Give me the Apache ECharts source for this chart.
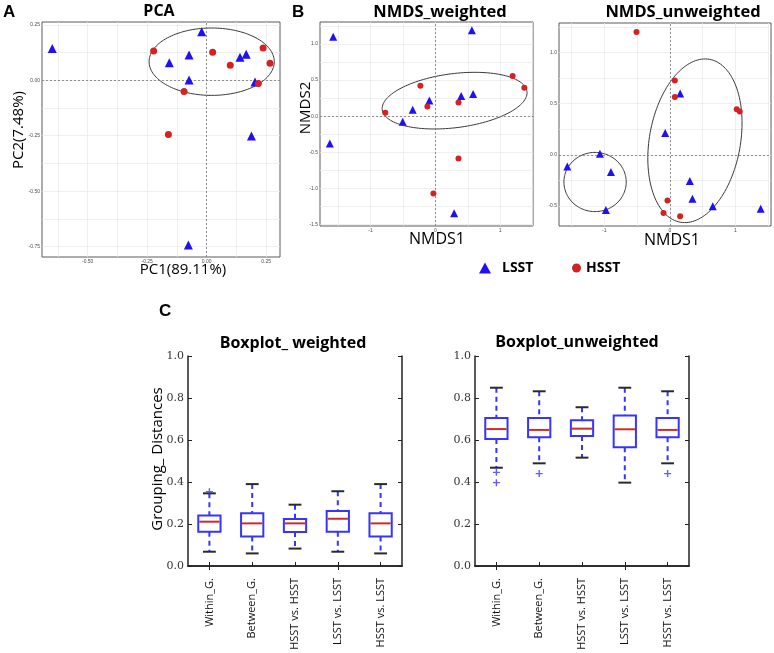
<!DOCTYPE html>
<html><head><meta charset="utf-8">
<script src="https://cdn.jsdelivr.net/npm/echarts@6/dist/echarts.min.js"></script>
<style>html,body{margin:0;padding:0;background:#fff}#c{width:774px;height:653px}</style>
</head><body><div id="c"></div>
<script>
// ---------- Panel A: PCA ----------
const pcaLSST = [[-0.649,0.144],[-0.021,0.219],[-0.074,0.114],[-0.157,0.079],[-0.074,0.001],[0.140,0.104],[0.166,0.117],[0.203,-0.008],[0.188,-0.251],[-0.077,-0.743]];
const pcaHSST = [[-0.223,0.132],[0.025,0.127],[0.099,0.068],[0.237,0.146],[0.266,0.077],[0.217,-0.014],[-0.095,-0.051],[-0.161,-0.245]];
const pcaEllipses = [[0.021,0.084,0.263,0,0,0.152]];
const pcaXTicks = [-0.5,-0.25,0,0.25];
const pcaYTicks = [-0.75,-0.5,-0.25,0,0.25];
const pcaXGridLines = [-0.625,-0.5,-0.375,-0.25,-0.125,0,0.125,0.25];
const pcaYGridLines = [-0.75,-0.625,-0.5,-0.375,-0.25,-0.125,0,0.125,0.25];

// ---------- Panel B: NMDS weighted ----------
const nmdsWLSST = [[-1.577,1.102],[0.562,1.190],[-1.629,-0.380],[-0.093,0.218],[0.397,0.278],[0.582,0.306],[-0.351,0.088],[-0.505,-0.079],[0.289,-1.347]];
const nmdsWHSST = [[-0.232,0.421],[1.191,0.556],[1.371,0.394],[-0.124,0.134],[0.356,0.190],[-0.773,0.046],[0.356,-0.588],[-0.031,-1.074]];
const nmdsWEllipses = [[0.296,0.215,1.116,0.127,0.053,-0.372]];
const nmdsWXTicks = [-1,0,1];
const nmdsWYTicks = [-1.5,-1,-0.5,0,0.5,1];
const nmdsWXGridLines = [-1.5,-1,-0.5,0,0.5,1,1.5];
const nmdsWYGridLines = [-1.5,-1.25,-1,-0.75,-0.5,-0.25,0,0.25,0.5,0.75,1,1.25];

// ---------- Panel B: NMDS unweighted ----------
const nmdsULSST = [[0.157,0.600],[-0.071,0.212],[0.305,-0.258],[0.345,-0.430],[0.655,-0.505],[1.386,-0.528],[-1.563,-0.114],[-1.066,0.010],[-0.898,-0.170],[-0.975,-0.541]];
const nmdsUHSST = [[-0.508,1.203],[0.076,0.727],[0.076,0.567],[1.020,0.447],[1.066,0.424],[-0.036,-0.447],[-0.096,-0.571],[0.157,-0.603]];
const nmdsUEllipses = [[0.383,0.137,0.223,0.798,0.683,-0.079],[-1.140,-0.267,0.475,0,0,0.290]];
const nmdsUXTicks = [-1,0,1];
const nmdsUYTicks = [-0.5,0,0.5,1];
const nmdsUXGridLines = [-1.5,-1,-0.5,0,0.5,1,1.5];
const nmdsUYGridLines = [-0.5,-0.25,0,0.25,0.5,0.75,1,1.25];

// ---------- Panel C: boxplots ----------
const boxCategories = ['Within_G.','Between_G.','HSST vs. HSST','LSST vs. LSST','HSST vs. LSST'];
// [min, Q1, median, Q3, max]
const boxWeighted = [[0.068,0.163,0.211,0.240,0.346],[0.060,0.141,0.203,0.251,0.390],[0.083,0.162,0.203,0.224,0.292],[0.068,0.163,0.225,0.262,0.356],[0.060,0.141,0.203,0.251,0.390]];
const outWeighted = [[0,0.354]];
const boxUnweighted = [[0.468,0.605,0.652,0.705,0.849],[0.489,0.613,0.648,0.705,0.832],[0.516,0.619,0.654,0.694,0.756],[0.397,0.565,0.651,0.717,0.849],[0.489,0.613,0.648,0.705,0.832]];
const outUnweighted = [[0,0.446],[0,0.397],[1,0.440],[4,0.440]];
const boxYTicks = [0,0.2,0.4,0.6,0.8,1.0];

const BLUE = '#1f10f5', RED = '#d42222';
const chart = echarts.init(document.getElementById('c'), null, {renderer:'canvas'});

function ellipseItem(params, api) {
  const cx = api.value(0), cy = api.value(1), ux = api.value(2), uy = api.value(3), vx = api.value(4), vy = api.value(5);
  const pts = [];
  for (let i = 0; i <= 144; i++) {
    const t = i / 144 * 2 * Math.PI;
    pts.push(api.coord([cx + ux*Math.cos(t) + vx*Math.sin(t), cy + uy*Math.cos(t) + vy*Math.sin(t)]));
  }
  return {type:'polyline', shape:{points:pts}, style:{stroke:'#3a3a3a', fill:null, lineWidth:1}, silent:true};
}
function boxItem(params, api) {
  const i = api.value(0);
  const band = api.size([1,0])[0];
  const hw = band*0.26, cw = band*0.15;
  const x = api.coord([i, api.value(1)])[0];
  const y = k => api.coord([i, api.value(k)])[1];
  const yMin=y(1), yQ1=y(2), yMed=y(3), yQ3=y(4), yMax=y(5);
  const wh = {stroke:'#3535ff', lineWidth:2, lineDash:[5,4]};
  const cap = {stroke:'#2a2a2a', lineWidth:2};
  return {type:'group', silent:true, children:[
    {type:'line', shape:{x1:x,y1:yMax,x2:x,y2:yQ3}, style:wh},
    {type:'line', shape:{x1:x,y1:yQ1,x2:x,y2:yMin}, style:wh},
    {type:'line', shape:{x1:x-cw,y1:yMax,x2:x+cw,y2:yMax}, style:cap},
    {type:'line', shape:{x1:x-cw,y1:yMin,x2:x+cw,y2:yMin}, style:cap},
    {type:'rect', shape:{x:x-hw,y:yQ3,width:2*hw,height:yQ1-yQ3}, style:{stroke:'#3535ff', fill:'#fff', lineWidth:2}},
    {type:'line', shape:{x1:x-hw+1,y1:yMed,x2:x+hw-1,y2:yMed}, style:{stroke:'#cc2b2b', lineWidth:2}}
  ]};
}

function scatterAxisX(gi, min, max, grid, ticks, fmt) {
  return {gridIndex:gi, type:'value', min:min, max:max,
    axisLine:{show:false}, axisTick:{show:false, customValues:grid},
    axisLabel:{customValues:ticks, fontSize:5, color:'#4d4d4d', margin:2, formatter:fmt, fontFamily:'Liberation Sans'},
    splitLine:{show:true, lineStyle:{color:'#e8e8e8', width:0.7}}};
}
const f2 = v => v.toFixed(2), f1 = v => v.toFixed(1), f0 = v => v.toFixed(0);

function scat(name, data, xi, sym, size, color, withLines) {
  const s = {type:'scatter', name:name, xAxisIndex:xi, yAxisIndex:xi, data:data, symbol:sym, symbolSize:size,
    itemStyle:{color:color, opacity:1}, z:5};
  if (withLines) {
    s.markLine = {silent:true, symbol:'none', label:{show:false}, animation:false,
      lineStyle:{type:[2,2], color:'#777', width:0.8}, data:[{xAxis:0},{yAxis:0}]};
  }
  return s;
}
function ell(data, xi) {
  return {type:'custom', xAxisIndex:xi, yAxisIndex:xi, data:data, renderItem:ellipseItem, z:3, silent:true};
}

const boxX = (gi, pos, labels) => ({gridIndex:gi, type:'category', data:boxCategories, position:pos,
  axisLine:{show:true, lineStyle:{color:'#222', width:1.5}},
  axisTick:{show:true, inside:true, alignWithLabel:true, length:4, lineStyle:{color:'#222'}},
  axisLabel:labels ? {show:true, rotate:90, margin:12, fontSize:11, color:'#111', fontFamily:'Open Sans'} : {show:false},
  splitLine:{show:false}});
const boxY = (gi, pos, labels) => ({gridIndex:gi, type:'value', min:0, max:1, interval:0.2, position:pos,
  axisLine:{show:true, lineStyle:{color:'#222', width:1.5}},
  axisTick:{show:true, inside:true, length:4, lineStyle:{color:'#222'}},
  axisLabel:labels ? {show:true, fontSize:11, color:'#333', margin:4, fontFamily:'DejaVu Serif', formatter:f1} : {show:false},
  splitLine:{show:false}});

const TF = 'Open Sans';
const txt = (text, x, y, font, rot, align) => ({type:'text', x:x, y:y, rotation:rot||0, silent:true,
  style:{text:text, font:font, fill:'#000', textAlign:align||'center', textVerticalAlign:'middle'}});

const option = {
  animation:false,
  backgroundColor:'#fff',
  grid:[
    {left:42, top:22, width:238, height:235, show:true, borderColor:'#5a5a5a', borderWidth:1, backgroundColor:'#fff'},
    {left:320, top:22, width:213, height:204, show:true, borderColor:'#5a5a5a', borderWidth:1, backgroundColor:'#fff'},
    {left:559, top:23, width:212, height:203, show:true, borderColor:'#5a5a5a', borderWidth:1, backgroundColor:'#fff'},
    {left:188, top:356, width:214, height:210},
    {left:475, top:356, width:214, height:210}
  ],
  xAxis:[
    scatterAxisX(0, -0.692, 0.308, pcaXGridLines, pcaXTicks, f2),
    scatterAxisX(1, -1.78, 1.505, nmdsWXGridLines, nmdsWXTicks, f0),
    scatterAxisX(2, -1.69, 1.543, nmdsUXGridLines, nmdsUXTicks, f0),
    boxX(3,'bottom',true), boxX(3,'top',false),
    boxX(4,'bottom',true), boxX(4,'top',false)
  ],
  yAxis:[
    scatterAxisX(0, -0.797, 0.263, pcaYGridLines, pcaYTicks, f2),
    scatterAxisX(1, -1.524, 1.306, nmdsWYGridLines, nmdsWYTicks, f1),
    scatterAxisX(2, -0.698, 1.291, nmdsUYGridLines, nmdsUYTicks, f1),
    boxY(3,'left',true), boxY(3,'right',false),
    boxY(4,'left',true), boxY(4,'right',false)
  ],
  legend:[
    {data:['LSST'], left:474, top:256, itemWidth:12, itemHeight:11, itemGap:0,
     textStyle:{fontWeight:'bold', fontSize:14, fontFamily:TF, color:'#000', padding:[0,0,0,6]}},
    {data:['HSST'], left:567, top:256, itemWidth:9, itemHeight:9, itemGap:0,
     textStyle:{fontWeight:'bold', fontSize:14, fontFamily:TF, color:'#000', padding:[0,0,0,0]}}
  ],
  series:[
    ell(pcaEllipses, 0),
    scat('LSST', pcaLSST, 0, 'triangle', 9, BLUE, true),
    scat('HSST', pcaHSST, 0, 'circle', 7, RED, false),
    ell(nmdsWEllipses, 1),
    scat('LSST', nmdsWLSST, 1, 'triangle', 8, BLUE, true),
    scat('HSST', nmdsWHSST, 1, 'circle', 6, RED, false),
    ell(nmdsUEllipses, 2),
    scat('LSST', nmdsULSST, 2, 'triangle', 8, BLUE, true),
    scat('HSST', nmdsUHSST, 2, 'circle', 6, RED, false),
    {type:'custom', xAxisIndex:3, yAxisIndex:3, renderItem:boxItem, data:boxWeighted.map((b,i)=>[i].concat(b)), z:4},
    {type:'scatter', xAxisIndex:3, yAxisIndex:3, data:outWeighted, symbol:'path://M4,0h2v4h4v2h-4v4h-2v-4h-4v-2h4z', symbolSize:7, itemStyle:{color:'#3535ff'}, z:6, silent:true},
    {type:'custom', xAxisIndex:5, yAxisIndex:5, renderItem:boxItem, data:boxUnweighted.map((b,i)=>[i].concat(b)), z:4},
    {type:'scatter', xAxisIndex:5, yAxisIndex:5, data:outUnweighted, symbol:'path://M4,0h2v4h4v2h-4v4h-2v-4h-4v-2h4z', symbolSize:7, itemStyle:{color:'#3535ff'}, z:6, silent:true}
  ],
  graphic:[
    txt('A', 3, 12, 'bold 17px "Liberation Sans"', 0, 'left'),
    txt('PCA', 159, 11, 'bold 16px "Open Sans"'),
    txt('PC1(89.11%)', 183, 270, '15px "Open Sans"'),
    txt('PC2(7.48%)', 19, 130, '15px "Open Sans"', Math.PI/2),
    txt('B', 292, 12, 'bold 17px "Liberation Sans"', 0, 'left'),
    txt('NMDS_weighted', 440, 12, 'bold 16.5px "Open Sans"'),
    txt('NMDS_unweighted', 683, 12, 'bold 16.5px "Open Sans"'),
    txt('NMDS2', 306, 108, '15px "Open Sans"', Math.PI/2),
    txt('NMDS1', 437, 239, '16px "Open Sans"'),
    txt('NMDS1', 672, 240, '16px "Open Sans"'),
    txt('C', 159, 311, 'bold 17px "Liberation Sans"', 0, 'left'),
    txt('Boxplot_ weighted', 293, 343, 'bold 16px "Open Sans"'),
    txt('Boxplot_unweighted', 577, 342, 'bold 16px "Open Sans"'),
    txt('Grouping_ Distances', 158, 459, '15px "Open Sans"', Math.PI/2)
  ]
};
chart.setOption(option);
</script></body></html>
